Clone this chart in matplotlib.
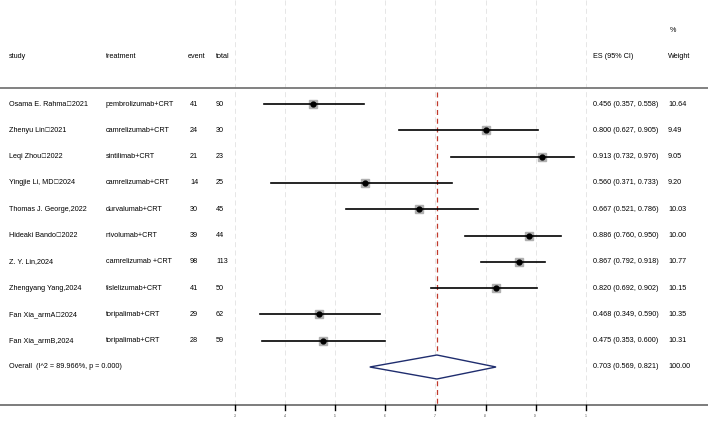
import matplotlib
matplotlib.use("Agg")
import matplotlib.pyplot as plt
from matplotlib.transforms import blended_transform_factory as btf

plt.rcParams["font.family"] = ["Liberation Sans", "Noto Sans CJK SC"]

studies = ["Osama E. Rahma，2021", "Zhenyu Lin，2021", "Leqi Zhou，2022", "Yingjie Li, MD，2024",
           "Thomas J. George,2022", "Hideaki Bando，2022", "Z. Y. Lin,2024", "Zhengyang Yang,2024",
           "Fan Xia_armA，2024", "Fan Xia_armB,2024"]
treatments = ["pembrolizumab+CRT", "camrelizumab+CRT", "sintilimab+CRT", "camrelizumab+CRT",
              "durvalumab+CRT", "nivolumab+CRT", "camrelizumab +CRT", "tislelizumab+CRT",
              "toripalimab+CRT", "toripalimab+CRT"]
events = [41, 24, 21, 14, 30, 39, 98, 41, 29, 28]
totals = [90, 30, 23, 25, 45, 44, 113, 50, 62, 59]
es = [0.456, 0.800, 0.913, 0.560, 0.667, 0.886, 0.867, 0.820, 0.468, 0.475]
lo = [0.357, 0.627, 0.732, 0.371, 0.521, 0.760, 0.792, 0.692, 0.349, 0.353]
hi = [0.558, 0.905, 0.976, 0.733, 0.786, 0.950, 0.918, 0.902, 0.590, 0.600]
weights = [10.64, 9.49, 9.05, 9.20, 10.03, 10.00, 10.77, 10.15, 10.35, 10.31]
overall = (0.703, 0.569, 0.821)
ticks = [0.3, 0.4, 0.5, 0.6, 0.7, 0.8, 0.9, 1.0]
tick_labels = [".3", ".4", ".5", ".6", ".7", ".8", ".9", "1"]

W, H = 708, 430
fig = plt.figure(figsize=(W/100, H/100), dpi=100)
ax = fig.add_axes([0, 0, 1, 1])
def px2x(p): return 0.3 + (p - 235) / 50.1 * 0.1
ax.set_xlim(px2x(0), px2x(W))
ax.set_ylim(H, 0)
ax.axis("off")
tr = btf(ax.transAxes, ax.transData)
fs = 5.2

for t in ticks:
    ax.plot([t, t], [0, 405], color="#e2e2e2", lw=0.6, ls=(0, (6, 4)), zorder=0)
ax.plot([px2x(0), px2x(W)], [88, 88], color="#777777", lw=1.3)
ax.plot([px2x(0), px2x(W)], [405, 405], color="#666666", lw=1.2)
for t, l in zip(ticks, tick_labels):
    ax.plot([t, t], [405, 410], color="black", lw=1)
    ax.text(t, 416, l, fontsize=2.5, ha="center", va="center", color="#555555")
ax.plot([overall[0]]*2, [92, 405], color="#c0392b", lw=0.9, ls=(0, (4, 3)), zorder=1)

def col(xp, y, s, ha="left"):
    ax.text(xp / W, y, s, transform=tr, fontsize=fs, ha=ha, va="center")
col(670, 30, "%")
for xp, s in [(9, "study"), (106, "treatment"), (188, "event"), (216, "total"),
              (593, "ES (95% CI)"), (668, "Weight")]:
    col(xp, 56, s)

for i in range(len(studies)):
    y = 104 + i * 26.3
    col(9, y, studies[i]); col(106, y, treatments[i])
    col(190, y, str(events[i])); col(216, y, str(totals[i]))
    col(593, y, f"{es[i]:.3f} ({lo[i]:.3f}, {hi[i]:.3f})")
    col(668, y, f"{weights[i]:.2f}")
    ax.plot([lo[i], hi[i]], [y, y], color="black", lw=1.2, zorder=3)
    ax.plot(es[i], y, marker="s", ms=weights[i]*0.6, color="#b0b0b0", zorder=2)
    ax.plot(es[i], y, marker="o", ms=3.5, color="black", zorder=4)

yo = 367
col(9, yo, "Overall  (I^2 = 89.966%, p = 0.000)")
col(593, yo, f"{overall[0]:.3f} ({overall[1]:.3f}, {overall[2]:.3f})")
col(668, yo, "100.00")
ax.fill([overall[1], overall[0], overall[2], overall[0]], [yo, yo-12, yo, yo+12],
        facecolor="white", edgecolor="#1f2d6e", lw=1, zorder=3)

fig.savefig("out.png", dpi=100)
